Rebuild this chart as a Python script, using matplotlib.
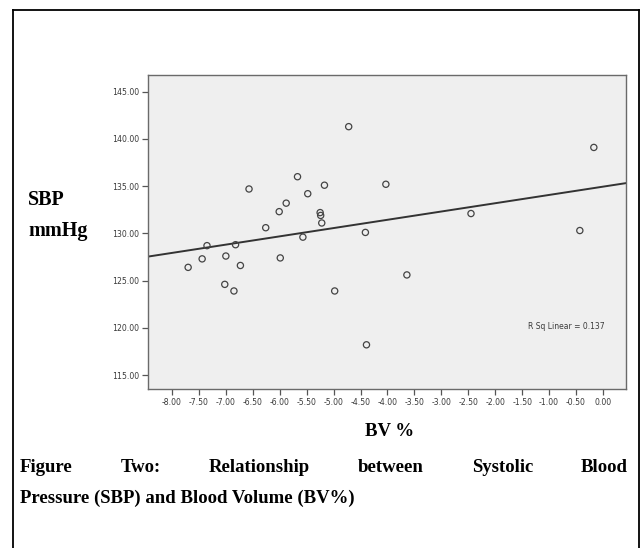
import numpy as np
import matplotlib
matplotlib.use("Agg")
import matplotlib.pyplot as plt
from matplotlib.lines import Line2D

# Data
bv_pct = [-4.72, -5.67, -5.17, -4.03, -6.57, -5.48, -5.88, -6.01, -5.25, -5.24,
          -5.22, -6.26, -4.41, -5.57, -7.35, -6.82, -7.00, -7.44, -5.99, -6.73,
          -7.70, -3.64, -7.02, -6.85, -4.98, -4.39, -2.45, -0.43, -0.17]
sbp = [141.3, 136.0, 135.1, 135.2, 134.7, 134.2, 133.2, 132.3, 132.2, 131.9,
       131.1, 130.6, 130.1, 129.6, 128.7, 128.8, 127.6, 127.3, 127.4, 126.6,
       126.4, 125.6, 124.6, 123.9, 123.9, 118.2, 132.1, 130.3, 139.1]
x_ticks = [-8.0, -7.5, -7.0, -6.5, -6.0, -5.5, -5.0, -4.5, -4.0, -3.5, -3.0,
           -2.5, -2.0, -1.5, -1.0, -0.5, 0.0]
y_ticks = [115.0, 120.0, 125.0, 130.0, 135.0, 140.0, 145.0]
r_sq_text = "R Sq Linear = 0.137"

W, H = 641, 548
fig = plt.figure(figsize=(W / 100, H / 100), dpi=100)
fig.patch.set_facecolor("white")

def fx(px):
    return px / W

def fy(py):
    return 1 - py / H

# outer frame
frame_kw = dict(color="black", lw=1.3, transform=fig.transFigure)
fig.add_artist(Line2D([fx(13), fx(639)], [fy(10), fy(10)], **frame_kw))
fig.add_artist(Line2D([fx(13), fx(13)], [fy(10), fy(548)], **frame_kw))
fig.add_artist(Line2D([fx(639), fx(639)], [fy(10), fy(548)], **frame_kw))

ax_left, ax_top, ax_right, ax_bottom = 148, 75, 626, 389
ax = fig.add_axes([fx(ax_left), fy(ax_bottom), (ax_right - ax_left) / W,
                   (ax_bottom - ax_top) / H])
ax.set_facecolor("#efefef")
ax.set_xlim(-8.445, 0.427)
ax.set_ylim(113.52, 146.77)

for s in ax.spines.values():
    s.set_color("#6a6a6a")
    s.set_linewidth(1.0)

ax.set_xticks(x_ticks)
ax.set_xticklabels([f"{v:.2f}" for v in x_ticks])
ax.set_yticks(y_ticks)
ax.set_yticklabels([f"{v:.2f}" for v in y_ticks])
ax.tick_params(axis="both", direction="out", length=4.5, width=0.9,
               color="#555555", labelsize=5.6, labelcolor="#3a3a3a", pad=2)

ax.scatter(bv_pct, sbp, s=20, facecolors="none", edgecolors="#444444",
           linewidths=0.9, zorder=3)

coef = np.polyfit(bv_pct, sbp, 1)
xl = np.array(ax.get_xlim())
ax.plot(xl, np.polyval(coef, xl), color="#333333", lw=1.4, zorder=2)

ax.text(0.955, 0.20, r_sq_text, transform=ax.transAxes, fontsize=5.5,
        color="#3a3a3a", ha="right", va="center")

serif = ["Liberation Serif", "DejaVu Serif"]
fig.text(fx(28), fy(200), "SBP", fontsize=14.5, fontweight="bold",
         family=serif, va="center", ha="left")
fig.text(fx(28), fy(231), "mmHg", fontsize=14.5, fontweight="bold",
         family=serif, va="center", ha="left")
fig.text(fx(390), fy(431), "BV %", fontsize=13.5, fontweight="bold",
         family=serif, va="center", ha="center")

# caption, first line justified
line1_words = ["Figure", "Two:", "Relationship", "between", "Systolic", "Blood"]
cap_kw = dict(fontsize=13.5, fontweight="bold", family=serif, va="center")
x_start, x_end = fx(20), fx(628)
renderer = fig.canvas.get_renderer()
widths = []
tmp = []
for w in line1_words:
    t = fig.text(0, 0, w, **cap_kw)
    bb = t.get_window_extent(renderer=renderer)
    widths.append(bb.width / W)
    tmp.append(t)
for t in tmp:
    t.remove()
gap = (x_end - x_start - sum(widths)) / (len(line1_words) - 1)
cx = x_start
for w, wd in zip(line1_words, widths):
    fig.text(cx, fy(468), w, ha="left", **cap_kw)
    cx += wd + gap
fig.text(x_start, fy(498), "Pressure (SBP) and Blood Volume (BV%)",
         ha="left", **cap_kw)

fig.savefig("out.png", dpi=100)
